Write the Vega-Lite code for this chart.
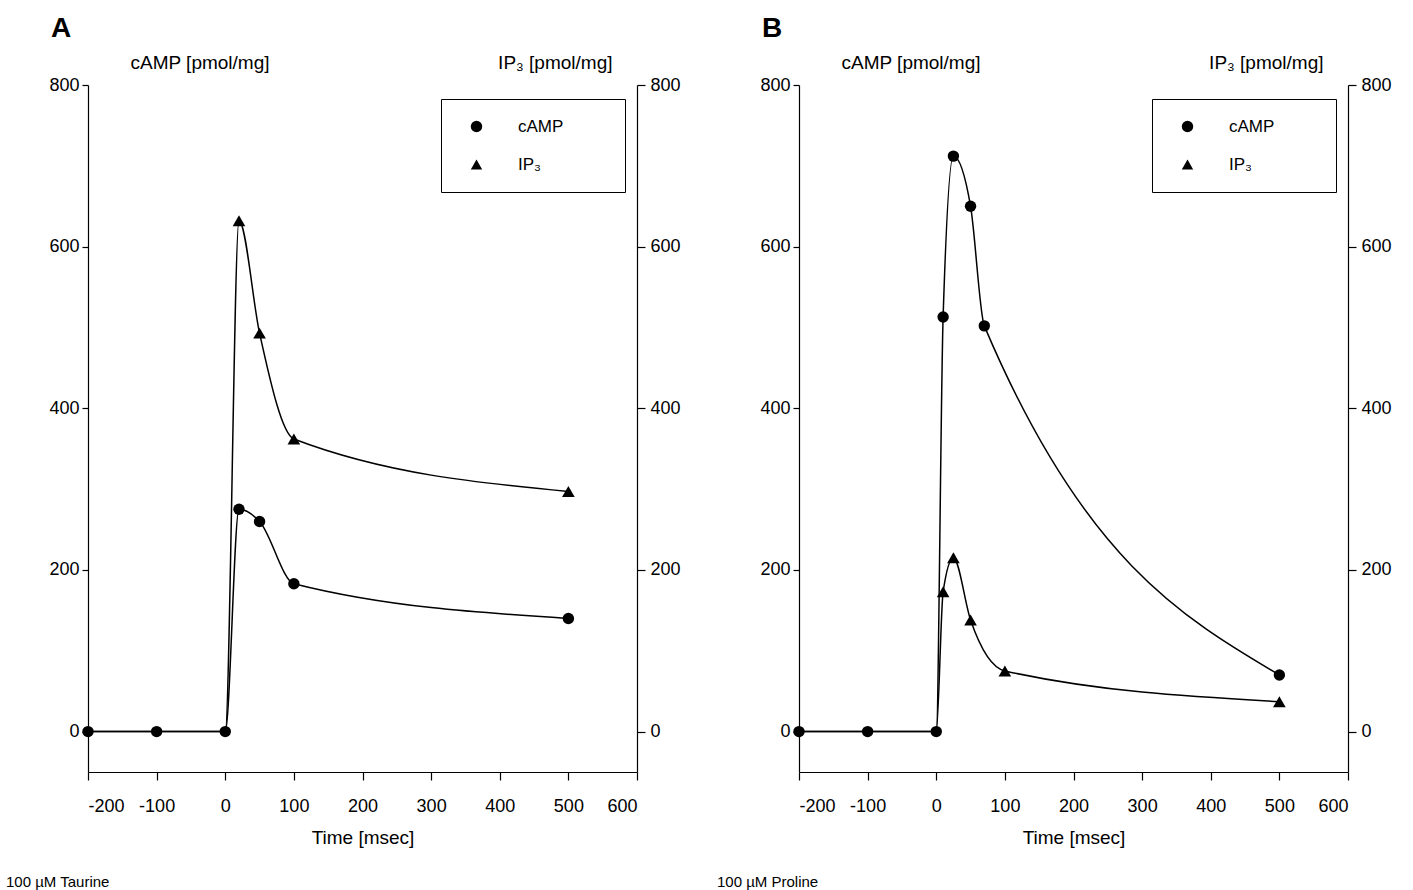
{
  "$schema": "https://vega.github.io/schema/vega-lite/v6.json",
  "padding": {"left": 5, "top": 15, "right": 5, "bottom": 5},
  "background": "white",
  "datasets": {
    "pts": [
      {"panel": "A", "series": "cAMP", "t": -200, "value": 0},
      {"panel": "A", "series": "cAMP", "t": -100, "value": 0},
      {"panel": "A", "series": "cAMP", "t": 0, "value": 0},
      {"panel": "A", "series": "cAMP", "t": 20, "value": 275},
      {"panel": "A", "series": "cAMP", "t": 50, "value": 260},
      {"panel": "A", "series": "cAMP", "t": 100, "value": 183},
      {"panel": "A", "series": "cAMP", "t": 500, "value": 140},
      {"panel": "A", "series": "IP3", "t": -200, "value": 0},
      {"panel": "A", "series": "IP3", "t": -100, "value": 0},
      {"panel": "A", "series": "IP3", "t": 0, "value": 0},
      {"panel": "A", "series": "IP3", "t": 20, "value": 632},
      {"panel": "A", "series": "IP3", "t": 50, "value": 493},
      {"panel": "A", "series": "IP3", "t": 100, "value": 362},
      {"panel": "A", "series": "IP3", "t": 500, "value": 297},
      {"panel": "B", "series": "cAMP", "t": -200, "value": 0},
      {"panel": "B", "series": "cAMP", "t": -100, "value": 0},
      {"panel": "B", "series": "cAMP", "t": 0, "value": 0},
      {"panel": "B", "series": "cAMP", "t": 10, "value": 513},
      {"panel": "B", "series": "cAMP", "t": 25, "value": 712},
      {"panel": "B", "series": "cAMP", "t": 50, "value": 650},
      {"panel": "B", "series": "cAMP", "t": 70, "value": 502},
      {"panel": "B", "series": "cAMP", "t": 500, "value": 70},
      {"panel": "B", "series": "IP3", "t": -200, "value": 0},
      {"panel": "B", "series": "IP3", "t": -100, "value": 0},
      {"panel": "B", "series": "IP3", "t": 0, "value": 0},
      {"panel": "B", "series": "IP3", "t": 10, "value": 173},
      {"panel": "B", "series": "IP3", "t": 25, "value": 215},
      {"panel": "B", "series": "IP3", "t": 50, "value": 138},
      {"panel": "B", "series": "IP3", "t": 100, "value": 75},
      {"panel": "B", "series": "IP3", "t": 500, "value": 37}
    ]
  },
  "hconcat": [
    {
      "title": {"text": "A", "anchor": "start", "frame": "bounds", "fontSize": 28, "fontWeight": "bold", "dx": 45, "offset": 10},
      "vconcat": [
        {
          "width": 549,
          "height": 687,
          "title": {"text": "100 µM Taurine", "orient": "bottom", "anchor": "start", "frame": "bounds", "fontSize": 15, "fontWeight": "normal", "offset": 28, "dx": -43},
          "data": {"name": "pts"},
          "transform": [{"filter": "datum.panel === 'A'"}],
          "layer": [
            {
              "transform": [{"filter": "datum.series === 'cAMP'"}],
              "encoding": {
                "x": {"field": "t", "type": "quantitative", "scale": {"domain": [-200, 600], "nice": false},
                      "axis": {"title": "Time [msec]", "values": [-200, -100, 0, 100, 200, 300, 400, 500, 600], "labelExpr": "'' + datum.value", "labelPadding": 17, "titlePadding": 13}},
                "y": {"field": "value", "type": "quantitative", "scale": {"domain": [-50, 800], "nice": false, "zero": false},
                      "axis": {"orient": "left", "title": "cAMP [pmol/mg]", "values": [0, 200, 400, 600, 800], "titleAngle": 0, "titleAlign": "left", "titleBaseline": "alphabetic", "titleX": 42, "titleY": -17, "tickSize": 6, "labelPadding": 3}}
              },
              "layer": [
                {"mark": {"type": "line", "interpolate": "monotone", "color": "black", "strokeWidth": 1.5}},
                {"mark": {"type": "point", "filled": true, "color": "black", "size": 130, "opacity": 1},
                 "encoding": {"shape": {"field": "series", "type": "nominal", "scale": {"domain": ["cAMP", "IP3"], "range": ["circle", "triangle-up"]},
                   "legend": {"labelExpr": "datum.value === 'IP3' ? 'IP₃' : 'cAMP\u00a0\u00a0\u00a0\u00a0\u00a0\u00a0\u00a0\u00a0\u00a0\u200b'"}}}}
              ]
            },
            {
              "transform": [{"filter": "datum.series === 'IP3'"}],
              "encoding": {
                "x": {"field": "t", "type": "quantitative", "scale": {"domain": [-200, 600], "nice": false}},
                "y": {"field": "value", "type": "quantitative", "scale": {"domain": [-50, 800], "nice": false, "zero": false},
                      "axis": {"orient": "right", "title": "IP₃ [pmol/mg]", "values": [0, 200, 400, 600, 800], "titleAngle": 0, "titleAlign": "right", "titleBaseline": "alphabetic", "titleX": -25, "titleY": -17, "labelPadding": 5}}
              },
              "layer": [
                {"mark": {"type": "line", "interpolate": "monotone", "color": "black", "strokeWidth": 1.5}},
                {"transform": [{"filter": "datum.t > 0"}],
                 "mark": {"type": "point", "filled": true, "color": "black", "size": 160, "opacity": 1},
                 "encoding": {"shape": {"field": "series", "type": "nominal", "scale": {"domain": ["cAMP", "IP3"], "range": ["circle", "triangle-up"]}}}}
              ]
            }
          ],
          "resolve": {"scale": {"y": "independent"}}
        }
      ]
    },
    {
      "title": {"text": "B", "anchor": "start", "frame": "bounds", "fontSize": 28, "fontWeight": "bold", "dx": 45, "offset": 10},
      "vconcat": [
        {
          "width": 549,
          "height": 687,
          "title": {"text": "100 µM Proline", "orient": "bottom", "anchor": "start", "frame": "bounds", "fontSize": 15, "fontWeight": "normal", "offset": 28, "dx": -43},
          "data": {"name": "pts"},
          "transform": [{"filter": "datum.panel === 'B'"}],
          "layer": [
            {
              "transform": [{"filter": "datum.series === 'cAMP'"}],
              "encoding": {
                "x": {"field": "t", "type": "quantitative", "scale": {"domain": [-200, 600], "nice": false},
                      "axis": {"title": "Time [msec]", "values": [-200, -100, 0, 100, 200, 300, 400, 500, 600], "labelExpr": "'' + datum.value", "labelPadding": 17, "titlePadding": 13}},
                "y": {"field": "value", "type": "quantitative", "scale": {"domain": [-50, 800], "nice": false, "zero": false},
                      "axis": {"orient": "left", "title": "cAMP [pmol/mg]", "values": [0, 200, 400, 600, 800], "titleAngle": 0, "titleAlign": "left", "titleBaseline": "alphabetic", "titleX": 42, "titleY": -17, "tickSize": 6, "labelPadding": 3}}
              },
              "layer": [
                {"mark": {"type": "line", "interpolate": "monotone", "color": "black", "strokeWidth": 1.5}},
                {"mark": {"type": "point", "filled": true, "color": "black", "size": 130, "opacity": 1},
                 "encoding": {"shape": {"field": "series", "type": "nominal", "scale": {"domain": ["cAMP", "IP3"], "range": ["circle", "triangle-up"]},
                   "legend": {"labelExpr": "datum.value === 'IP3' ? 'IP₃' : 'cAMP\u00a0\u00a0\u00a0\u00a0\u00a0\u00a0\u00a0\u00a0\u00a0\u200b'"}}}}
              ]
            },
            {
              "transform": [{"filter": "datum.series === 'IP3'"}],
              "encoding": {
                "x": {"field": "t", "type": "quantitative", "scale": {"domain": [-200, 600], "nice": false}},
                "y": {"field": "value", "type": "quantitative", "scale": {"domain": [-50, 800], "nice": false, "zero": false},
                      "axis": {"orient": "right", "title": "IP₃ [pmol/mg]", "values": [0, 200, 400, 600, 800], "titleAngle": 0, "titleAlign": "right", "titleBaseline": "alphabetic", "titleX": -25, "titleY": -17, "labelPadding": 5}}
              },
              "layer": [
                {"mark": {"type": "line", "interpolate": "monotone", "color": "black", "strokeWidth": 1.5}},
                {"transform": [{"filter": "datum.t > 0"}],
                 "mark": {"type": "point", "filled": true, "color": "black", "size": 160, "opacity": 1},
                 "encoding": {"shape": {"field": "series", "type": "nominal", "scale": {"domain": ["cAMP", "IP3"], "range": ["circle", "triangle-up"]}}}}
              ]
            }
          ],
          "resolve": {"scale": {"y": "independent"}}
        }
      ]
    }
  ],
  "spacing": 35,
  "resolve": {"legend": {"shape": "independent"}, "scale": {"shape": "independent", "y": "independent", "x": "independent"}},
  "config": {
    "font": "Liberation Sans",
    "view": {"stroke": null},
    "axis": {"labelFont": "Liberation Sans", "labelFontSize": 18, "labelColor": "black", "titleFont": "Liberation Sans", "titleFontSize": 19, "titleFontWeight": "normal", "titleColor": "black", "domainColor": "black", "tickColor": "black", "grid": false, "tickSize": 8, "domainWidth": 1.2, "tickWidth": 1.2},
    "legend": {"orient": "none", "legendX": 353, "legendY": 14, "strokeColor": "black", "fillColor": "white", "padding": 19, "rowPadding": 19, "symbolOffset": 8, "labelOffset": 33, "labelFont": "Liberation Sans", "labelFontSize": 17, "labelColor": "black", "title": null, "symbolSize": 130, "symbolFillColor": "black", "symbolStrokeColor": "black"},
    "title": {"font": "Liberation Sans", "color": "black"}
  }
}
